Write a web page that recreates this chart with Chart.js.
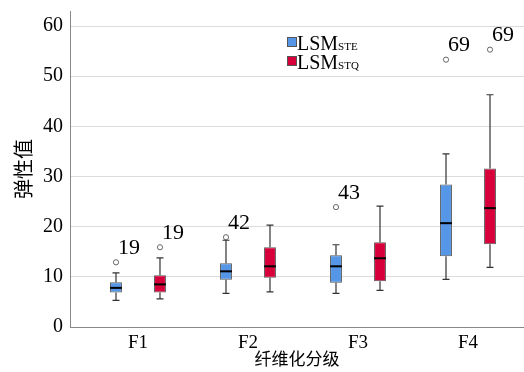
<!DOCTYPE html>
<html>
<head>
<meta charset="utf-8">
<script src="https://cdn.jsdelivr.net/npm/chart.js@4.4.1/dist/chart.umd.min.js"></script>
<style>
  html, body { margin: 0; padding: 0; background: #fff; }
  #wrap { width: 524px; height: 372px; }
</style>
</head>
<body>
<div id="wrap"><canvas id="boxChart" width="524" height="372"></canvas></div>
<script>
// Categories and tick labels
const categories = ["F1", "F2", "F3", "F4"];
const yTicks = [0, 10, 20, 30, 40, 50, 60];

// LSM STE (blue) box values
const steMin = [5.3, 6.7, 6.7, 9.5];
const steQ1 = [6.9, 9.4, 8.8, 14.1];
const steMedian = [7.8, 11.1, 12.1, 20.7];
const steQ3 = [8.9, 12.7, 14.3, 28.4];
const steMax = [10.8, 17.3, 16.4, 34.5];
const steOutlier = [12.9, 17.9, 23.9, 53.3];
const steOutlierLabel = ["19", "42", "43", "69"];

// LSM STQ (red) box values
const stqMin = [5.6, 7.0, 7.3, 11.9];
const stqQ1 = [6.9, 9.8, 9.1, 16.5];
const stqMedian = [8.5, 12.1, 13.7, 23.7];
const stqQ3 = [10.3, 15.9, 16.9, 31.6];
const stqMax = [13.8, 20.3, 24.1, 46.3];
const stqOutlier = [15.9, null, null, 55.3];
const stqOutlierLabel = ["19", null, null, "69"];

const serif = "Liberation Serif, DejaVu Serif, serif";
const cjk = "Noto Sans CJK SC, sans-serif";
const blue = "#5596e6";
const red = "#d7003a";

// extra box parts per dataset, drawn by the plugin below
const boxExtras = [
  { min: steMin, median: steMedian, max: steMax, q1: steQ1, q3: steQ3, out: steOutlier, outLabel: steOutlierLabel },
  { min: stqMin, median: stqMedian, max: stqMax, q1: stqQ1, q3: stqQ3, out: stqOutlier, outLabel: stqOutlierLabel },
];

// whiskers, medians and outliers
const boxPlugin = {
  id: "boxParts",
  afterDatasetsDraw(chart) {
    const c = chart.ctx;
    const yScale = chart.scales.y;
    boxExtras.forEach((extra, d) => {
      const meta = chart.getDatasetMeta(d);
      meta.data.forEach((bar, i) => {
        const x = bar.x;
        const half = bar.width / 2;
        const yMin = yScale.getPixelForValue(extra.min[i]);
        const yMax = yScale.getPixelForValue(extra.max[i]);
        const yQ1 = yScale.getPixelForValue(extra.q1[i]);
        const yQ3 = yScale.getPixelForValue(extra.q3[i]);
        const yMed = yScale.getPixelForValue(extra.median[i]);

        c.save();
        c.strokeStyle = "#333";
        c.lineWidth = 1.2;
        c.beginPath();
        c.moveTo(x, yQ3); c.lineTo(x, yMax);
        c.moveTo(x, yQ1); c.lineTo(x, yMin);
        c.moveTo(x - 3.5, yMax); c.lineTo(x + 3.5, yMax);
        c.moveTo(x - 3.5, yMin); c.lineTo(x + 3.5, yMin);
        c.stroke();

        // median
        c.strokeStyle = "#000";
        c.lineWidth = 2;
        c.beginPath();
        c.moveTo(x - half, yMed); c.lineTo(x + half, yMed);
        c.stroke();

        // outlier
        if (extra.out[i] != null) {
          const yOut = yScale.getPixelForValue(extra.out[i]);
          c.strokeStyle = "#666";
          c.lineWidth = 1;
          c.beginPath();
          c.arc(x, yOut, 2.6, 0, Math.PI * 2);
          c.stroke();
          c.fillStyle = "#000";
          c.font = "22px " + serif;
          c.textAlign = "left";
          c.textBaseline = "bottom";
          c.fillText(extra.outLabel[i], x + 2, yOut - 3);
        }
        c.restore();
      });
    });
  },
};

// legend with subscripts
const legendPlugin = {
  id: "subLegend",
  afterDraw(chart) {
    const c = chart.ctx;
    const items = [
      { color: blue, sub: "STE" },
      { color: red, sub: "STQ" },
    ];
    c.save();
    items.forEach((item, i) => {
      const top = 37 + i * 19;
      c.fillStyle = item.color;
      c.strokeStyle = "#555";
      c.lineWidth = 1;
      c.fillRect(287, top, 9, 9);
      c.strokeRect(287.5, top + 0.5, 9, 9);
      c.fillStyle = "#000";
      c.textBaseline = "alphabetic";
      c.textAlign = "left";
      c.font = "20px " + serif;
      c.fillText("LSM", 297, top + 13);
      const w = c.measureText("LSM").width;
      c.font = "11px " + serif;
      c.fillText(item.sub, 297 + w, top + 13);
    });
    c.restore();
  },
};

const ctx = document.getElementById("boxChart").getContext("2d");
const boxChart = new Chart(ctx, {
  type: "bar",
  data: {
    datasets: [
      {
        label: "LSMSTE",
        data: categories.map((c, i) => ({ x: i + 1, y: [steQ1[i], steQ3[i]] })),
        backgroundColor: blue,
        borderColor: "#555",
        borderWidth: 1,
        borderSkipped: false,
      },
      {
        label: "LSMSTQ",
        data: categories.map((c, i) => ({ x: i + 1, y: [stqQ1[i], stqQ3[i]] })),
        backgroundColor: red,
        borderColor: "#555",
        borderWidth: 1,
        borderSkipped: false,
      },
    ],
  },
  options: {
    responsive: false,
    animation: false,
    categoryPercentage: 0.8,
    barPercentage: 0.27,
    layout: { padding: { top: 11, right: 0, left: 0, bottom: 0 } },
    plugins: {
      legend: { display: false },
      tooltip: { enabled: false },
    },
    scales: {
      x: {
        type: "linear",
        offset: false,
        min: 0.382,
        max: 4.509,
        afterBuildTicks: (scale) => {
          scale.ticks = categories.map((c, i) => ({ value: i + 1 }));
        },
        afterFit: (scale) => {
          scale.height = 45;
          scale.paddingLeft = 0;
          scale.paddingRight = 0;
        },
        grid: { display: false, drawTicks: false, offset: false },
        border: { color: "#888", width: 1 },
        ticks: {
          padding: 5,
          color: "#000",
          font: { family: serif, size: 19 },
          callback: (v) => categories[v - 1],
        },
        title: {
          display: true,
          text: "纤维化分级",
          color: "#000",
          font: { family: cjk, size: 17 },
          padding: { top: 0, bottom: 3 },
        },
      },
      y: {
        min: 0,
        max: 63,
        afterBuildTicks: (scale) => {
          scale.ticks = yTicks.map((v) => ({ value: v }));
        },
        afterFit: (scale) => {
          scale.width = 70;
          scale.paddingTop = 0;
          scale.paddingBottom = 0;
        },
        grid: { color: "#dcdcdc", drawTicks: false },
        border: { color: "#888", width: 1 },
        ticks: {
          padding: 7,
          color: "#000",
          font: { family: serif, size: 20 },
        },
        title: {
          display: true,
          text: "弹性值",
          color: "#000",
          font: { family: cjk, size: 20 },
          padding: { top: 11, bottom: 0 },
        },
      },
    },
  },
  plugins: [boxPlugin, legendPlugin],
});
</script>
</body>
</html>
